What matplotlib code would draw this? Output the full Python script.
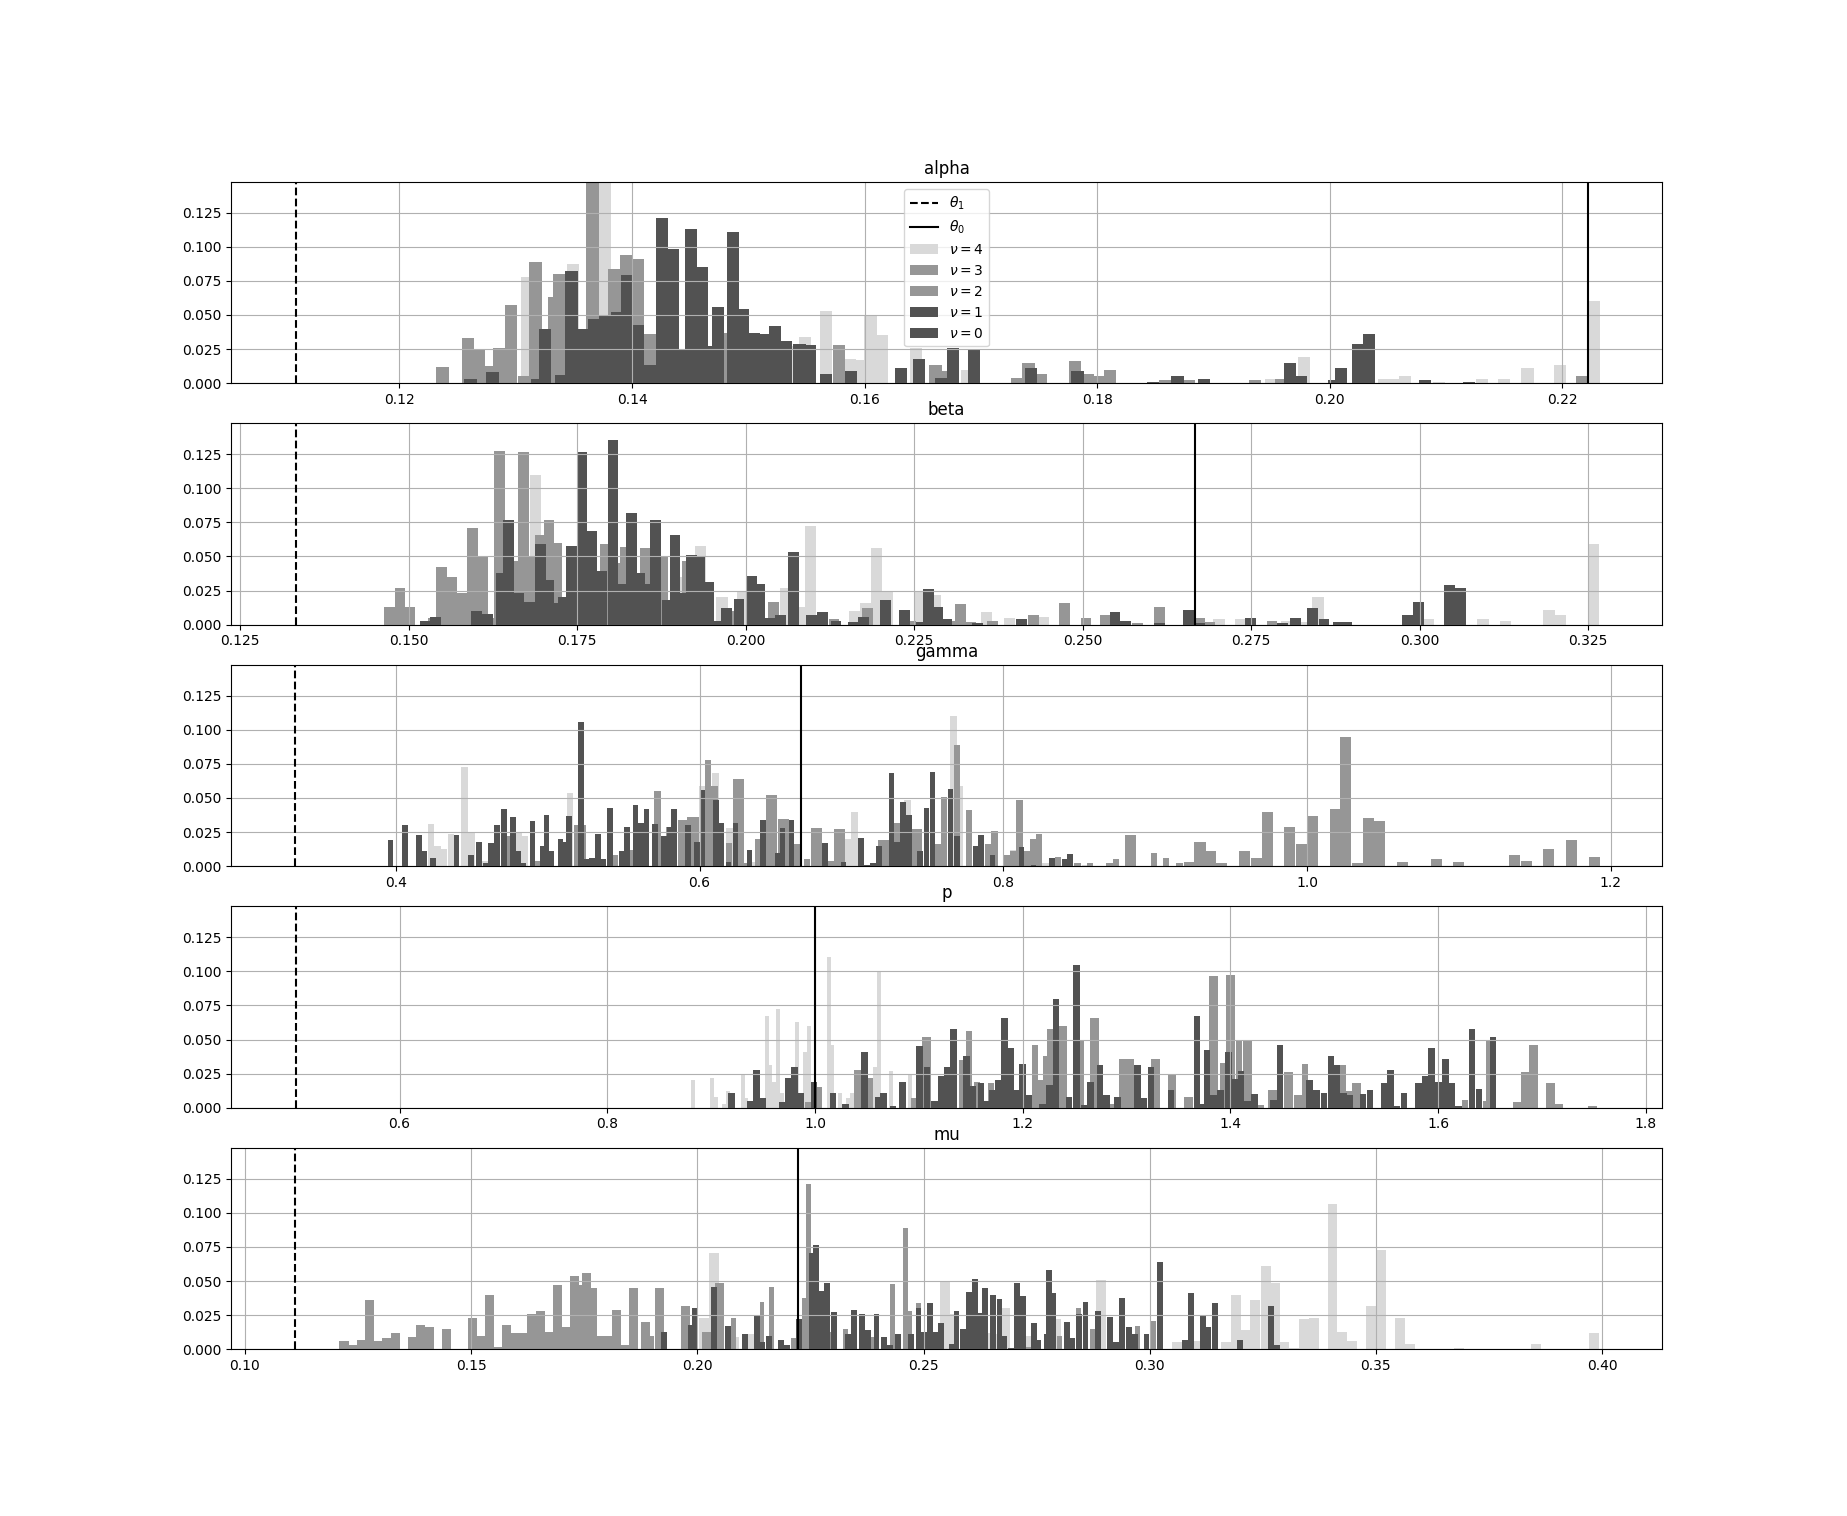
"""
Posterior weight histograms per parameter, one panel per parameter
"""

import matplotlib
matplotlib.use("Agg")
import matplotlib.pyplot as plt

# --- data -----------------------------------------------------------------
# one histogram per tempering level nu (bin centre, weight)

params = ["alpha", "beta", "gamma", "p", "mu"]
nus = [4, 3, 2, 1, 0]
theta1 = [0.1111, 0.1333, 0.3333, 0.5, 0.1111]
theta0 = [0.2222, 0.2667, 0.6667, 1.0, 0.2222]

# alpha
alpha_x4 = [0.1310, 0.1349, 0.1377, 0.1540, 0.1549, 0.1567, 0.1587, 0.1596, 0.1605, 0.1615, 0.1644, 0.1688,
            0.1950, 0.1978, 0.2047, 0.2055, 0.2065, 0.2094, 0.2131, 0.2150, 0.2170, 0.2198, 0.2227]
alpha_h4 = [0.0775, 0.087, 0.150, 0.027, 0.034, 0.053, 0.018, 0.017, 0.050, 0.035, 0.026, 0.010,
            0.003, 0.019, 0.003, 0.003, 0.005, 0.001, 0.003, 0.003, 0.011, 0.013, 0.060]
alpha_x3 = [0.1237, 0.1259, 0.1268, 0.1276, 0.1286, 0.1296, 0.1307, 0.1317, 0.1333, 0.1337]
alpha_h3 = [0.012, 0.033, 0.024, 0.0127, 0.026, 0.057, 0.005, 0.089, 0.063, 0.080]
alpha_x2 = [0.1366, 0.1385, 0.1395, 0.1405, 0.1415, 0.1481, 0.1578, 0.1661, 0.1669, 0.1731, 0.1741, 0.1752,
            0.1781, 0.1792, 0.1801, 0.1811, 0.1858, 0.1879, 0.1936, 0.1958, 0.2217]
alpha_h2 = [0.150, 0.084, 0.094, 0.091, 0.036, 0.037, 0.028, 0.013, 0.009, 0.004, 0.015, 0.007,
            0.016, 0.007, 0.005, 0.010, 0.002, 0.002, 0.002, 0.003, 0.005]
alpha_x1 = [0.1261, 0.1280, 0.1318, 0.1325, 0.1339, 0.1348, 0.1358, 0.1367, 0.1377, 0.1387, 0.1396, 0.1405,
            0.1415, 0.1426, 0.1435, 0.1443]
alpha_h1 = [0.003, 0.0083, 0.003, 0.040, 0.006, 0.082, 0.040, 0.047, 0.049, 0.052, 0.079, 0.043,
            0.013, 0.121, 0.098, 0.025]
alpha_x0 = [0.1451, 0.1460, 0.1467, 0.1474, 0.1487, 0.1495, 0.1499, 0.1505, 0.1514, 0.1523, 0.1532, 0.1544,
            0.1553, 0.1567, 0.1588, 0.1631, 0.1647, 0.1666, 0.1676, 0.1694, 0.1743, 0.1783, 0.1848, 0.1869,
            0.1892, 0.1966, 0.1975, 0.2004, 0.2010, 0.2024, 0.2034, 0.2082, 0.2120]
alpha_h0 = [0.113, 0.085, 0.027, 0.056, 0.111, 0.054, 0.018, 0.037, 0.036, 0.042, 0.031, 0.029,
            0.028, 0.007, 0.009, 0.011, 0.018, 0.004, 0.026, 0.025, 0.011, 0.009, 0.001, 0.005,
            0.003, 0.015, 0.005, 0.002, 0.011, 0.029, 0.036, 0.002, 0.001]

# beta
beta_x4 = [0.1688, 0.1904, 0.1933, 0.1965, 0.1995, 0.2060, 0.2082, 0.2096, 0.2161, 0.2178, 0.2194, 0.2210,
           0.2259, 0.2281, 0.2357, 0.2391, 0.2441, 0.2702, 0.2734, 0.2802, 0.2830, 0.2849, 0.3013, 0.3094,
           0.3127, 0.3192, 0.3208, 0.3258]
beta_h4 = [0.110, 0.035, 0.058, 0.0205, 0.025, 0.027, 0.013, 0.072, 0.010, 0.016, 0.056, 0.025,
           0.024, 0.022, 0.0096, 0.005, 0.006, 0.0044, 0.004, 0.003, 0.002, 0.0205, 0.0044, 0.0044,
           0.003, 0.011, 0.0074, 0.0595]
beta_x3 = [0.1471, 0.1487, 0.1501, 0.1537, 0.1549, 0.1564, 0.1580, 0.1595, 0.1610, 0.1627, 0.1635]
beta_h3 = [0.0127, 0.027, 0.0127, 0.005, 0.042, 0.035, 0.0235, 0.071, 0.050, 0.005, 0.127]
beta_x2 = [0.1660, 0.1670, 0.1679, 0.1696, 0.1708, 0.1720, 0.1783, 0.1791, 0.1815, 0.1822, 0.1851, 0.1877,
           0.1913, 0.1979, 0.2041, 0.2131, 0.2181, 0.2245, 0.2309, 0.2319, 0.2333, 0.2366, 0.2427, 0.2473,
           0.2505, 0.2534, 0.2581, 0.2614, 0.2673, 0.2689, 0.2781]
beta_h2 = [0.047, 0.1265, 0.050, 0.066, 0.077, 0.060, 0.033, 0.0595, 0.045, 0.057, 0.056, 0.050,
           0.047, 0.010, 0.017, 0.0044, 0.0125, 0.003, 0.003, 0.0155, 0.002, 0.003, 0.0074, 0.016,
           0.005, 0.0074, 0.001, 0.013, 0.005, 0.002, 0.003]
beta_x1 = [0.1524, 0.1540, 0.1601, 0.1617, 0.1637, 0.1648, 0.1663, 0.1679, 0.1695, 0.1707, 0.1718, 0.1730,
           0.1742, 0.1757, 0.1772, 0.1786]
beta_h1 = [0.003, 0.006, 0.010, 0.008, 0.038, 0.0765, 0.0235, 0.017, 0.0595, 0.033, 0.016, 0.0205,
           0.058, 0.1265, 0.069, 0.039]
beta_x0 = [0.1803, 0.1818, 0.1831, 0.1843, 0.1854, 0.1866, 0.1883, 0.1895, 0.1909, 0.1920, 0.1932, 0.1945,
           0.1958, 0.1971, 0.1990, 0.2008, 0.2021, 0.2036, 0.2051, 0.2071, 0.2097, 0.2114, 0.2134, 0.2160,
           0.2175, 0.2207, 0.2235, 0.2261, 0.2271, 0.2285, 0.2298, 0.2344, 0.2409, 0.2548, 0.2563, 0.2614,
           0.2657, 0.2673, 0.2749, 0.2797, 0.2816, 0.2841, 0.2858, 0.2879, 0.2892, 0.2982, 0.2998, 0.3044,
           0.3060]
beta_h0 = [0.1355, 0.030, 0.082, 0.038, 0.030, 0.0765, 0.018, 0.066, 0.0235, 0.051, 0.050, 0.031,
           0.003, 0.0125, 0.019, 0.036, 0.030, 0.005, 0.0074, 0.053, 0.0074, 0.0096, 0.003, 0.002,
           0.006, 0.018, 0.011, 0.002, 0.026, 0.013, 0.004, 0.001, 0.0044, 0.0096, 0.003, 0.001,
           0.011, 0.001, 0.005, 0.001, 0.005, 0.0125, 0.0044, 0.002, 0.002, 0.0074, 0.017, 0.029,
           0.027]

# gamma
gamma_x4 = [0.4232, 0.4275, 0.4318, 0.4364, 0.4451, 0.4497, 0.4586, 0.4810, 0.4845, 0.5147, 0.5282, 0.6019,
            0.6105, 0.6197, 0.6359, 0.6980, 0.7020, 0.7368, 0.7673, 0.7716, 0.8065, 0.8278, 0.8542]
gamma_h4 = [0.031, 0.0147, 0.0128, 0.0236, 0.073, 0.0246, 0.004, 0.0246, 0.022, 0.054, 0.003, 0.059,
            0.068, 0.028, 0.003, 0.020, 0.040, 0.0486, 0.1098, 0.059, 0.012, 0.002, 0.001]
gamma_x3 = [0.4745, 0.4937, 0.5015, 0.5441, 0.5549, 0.5722, 0.5798, 0.6054, 0.6097, 0.6192, 0.6302, 0.6386,
            0.6642, 0.6707, 0.6864, 0.7301, 0.7571, 0.7609, 0.7695, 0.7773, 0.7900, 0.7943, 0.8022, 0.8065,
            0.8108, 0.8159, 0.8197, 0.8234, 0.8361, 0.8490, 0.8571, 0.8698, 0.8741, 0.8992, 0.9073, 0.9162]
gamma_h3 = [0.022, 0.004, 0.011, 0.008, 0.012, 0.055, 0.0287, 0.078, 0.059, 0.017, 0.002, 0.020,
            0.016, 0.005, 0.004, 0.0317, 0.016, 0.051, 0.089, 0.041, 0.016, 0.026, 0.008, 0.011,
            0.0486, 0.011, 0.020, 0.0236, 0.0066, 0.002, 0.002, 0.002, 0.005, 0.0096, 0.006, 0.002]
gamma_x2 = [0.5212, 0.5892, 0.5957, 0.6256, 0.6475, 0.6551, 0.6769, 0.6923, 0.7215, 0.7428, 0.8840, 0.9224,
            0.9296, 0.9361, 0.9436, 0.9590, 0.9666, 0.9741, 0.9887, 0.9962, 1.0037, 1.0186, 1.0256, 1.0331,
            1.0404, 1.0479, 1.0628, 1.0851, 1.0997, 1.1369, 1.1444, 1.1590, 1.1743, 1.1892]
gamma_h2 = [0.030, 0.034, 0.036, 0.064, 0.052, 0.0346, 0.028, 0.0273, 0.019, 0.027, 0.023, 0.003,
            0.0177, 0.011, 0.0022, 0.011, 0.006, 0.040, 0.029, 0.016, 0.037, 0.042, 0.095, 0.002,
            0.035, 0.033, 0.003, 0.005, 0.003, 0.008, 0.0037, 0.0125, 0.019, 0.0066]
gamma_x1 = [0.3965, 0.4059, 0.4151, 0.4184, 0.4243, 0.4399, 0.4494, 0.4548, 0.4591, 0.4626, 0.4664, 0.4710,
            0.4772, 0.4807, 0.4837, 0.4899, 0.4966, 0.4991, 0.5023, 0.5085, 0.5112, 0.5139, 0.5220, 0.5258,
            0.5293, 0.5331, 0.5363, 0.5409, 0.5487, 0.5520, 0.5579, 0.5614, 0.5649, 0.5706, 0.5765]
gamma_h1 = [0.019, 0.030, 0.023, 0.0115, 0.006, 0.023, 0.008, 0.0177, 0.002, 0.017, 0.030, 0.042,
            0.036, 0.011, 0.002, 0.033, 0.015, 0.0376, 0.011, 0.020, 0.018, 0.037, 0.1054, 0.005,
            0.006, 0.0236, 0.005, 0.0427, 0.011, 0.0287, 0.045, 0.0317, 0.042, 0.031, 0.022]
gamma_x0 = [0.5803, 0.5833, 0.5924, 0.5984, 0.6019, 0.6108, 0.6140, 0.6189, 0.6237, 0.6329, 0.6418, 0.6513,
            0.6545, 0.6605, 0.6826, 0.6947, 0.7063, 0.7104, 0.7142, 0.7182, 0.7263, 0.7301, 0.7339, 0.7377,
            0.7452, 0.7493, 0.7534, 0.7652, 0.7696, 0.7816, 0.7852, 0.7930, 0.8121, 0.8199, 0.8321, 0.8402,
            0.8439]
gamma_h0 = [0.029, 0.042, 0.030, 0.0177, 0.056, 0.0486, 0.0317, 0.003, 0.0317, 0.0118, 0.034, 0.010,
            0.028, 0.034, 0.017, 0.003, 0.0206, 0.001, 0.002, 0.0147, 0.068, 0.0177, 0.047, 0.0376,
            0.011, 0.0427, 0.069, 0.0567, 0.022, 0.0147, 0.023, 0.008, 0.014, 0.001, 0.006, 0.005,
            0.009]

# p
p_x4 = [0.8829, 0.9008, 0.9046, 0.9126, 0.9165, 0.9309, 0.9338, 0.9536, 0.9568, 0.9606, 0.9645, 0.9683,
        0.9830, 0.9907, 0.9946, 1.0134, 1.0166, 1.0240, 1.0317, 1.0355, 1.0576, 1.0614, 1.0730, 1.0912]
p_h4 = [0.020, 0.022, 0.008, 0.003, 0.0125, 0.024, 0.007, 0.067, 0.031, 0.019, 0.072, 0.011,
        0.0626, 0.0405, 0.060, 0.1105, 0.046, 0.011, 0.007, 0.011, 0.030, 0.0995, 0.027, 0.025]
p_x3 = [0.9933, 1.0042, 1.0528, 1.0954, 1.1414, 1.1482, 1.1562, 1.1696, 1.2118, 1.2173, 1.2227, 1.2266,
        1.2563, 1.2867, 1.3929, 1.4083, 1.4292, 1.4718, 1.5083, 1.5147, 1.6260, 1.6458, 1.6487]
p_h3 = [0.004, 0.0155, 0.022, 0.0074, 0.035, 0.056, 0.019, 0.018, 0.046, 0.020, 0.0376, 0.058,
        0.049, 0.003, 0.033, 0.0486, 0.002, 0.032, 0.031, 0.012, 0.006, 0.005, 0.050]
p_x2 = [1.0416, 1.1075, 1.2384, 1.2691, 1.2970, 1.3030, 1.3283, 1.3439, 1.3596, 1.3837, 1.4000, 1.4163,
        1.4404, 1.4558, 1.4651, 1.5218, 1.6760, 1.6840, 1.6920, 1.7083, 1.7163, 1.7490]
p_h2 = [0.028, 0.0516, 0.060, 0.0656, 0.036, 0.036, 0.036, 0.025, 0.008, 0.0965, 0.0973, 0.0486,
        0.013, 0.0265, 0.0096, 0.018, 0.0044, 0.0265, 0.046, 0.018, 0.003, 0.0015]
p_x1 = [0.9194, 0.9376, 0.9434, 0.9494, 0.9686, 0.9744, 0.9805, 0.9866, 0.9990, 1.0173, 1.0291, 1.0480,
        1.0614, 1.0662, 1.0752, 1.0845, 1.1008, 1.1078, 1.1152, 1.1216, 1.1277, 1.1334, 1.1459, 1.1520,
        1.1600, 1.1651, 1.1706, 1.1766, 1.1824, 1.1885, 1.1942, 1.1997]
p_h1 = [0.011, 0.005, 0.028, 0.0074, 0.004, 0.022, 0.0295, 0.011, 0.019, 0.011, 0.003, 0.041,
        0.008, 0.011, 0.001, 0.019, 0.045, 0.030, 0.005, 0.0236, 0.030, 0.0575, 0.038, 0.016,
        0.018, 0.005, 0.013, 0.020, 0.0656, 0.0435, 0.013, 0.032]
p_x0 = [1.2058, 1.2192, 1.2256, 1.2320, 1.2448, 1.2518, 1.2598, 1.2653, 1.2746, 1.2806, 1.2915, 1.3104,
        1.3168, 1.3235, 1.3430, 1.3680, 1.3728, 1.3776, 1.3837, 1.3904, 1.3981, 1.4045, 1.4103, 1.4163,
        1.4231, 1.4413, 1.4478, 1.4760, 1.4827, 1.4901, 1.4968, 1.5026, 1.5087, 1.5151, 1.5279, 1.5346,
        1.5484, 1.5545, 1.5606, 1.5673, 1.5811, 1.5878, 1.5939, 1.6003, 1.6070, 1.6135, 1.6199, 1.6327,
        1.6394, 1.6529]
p_h0 = [0.0096, 0.003, 0.017, 0.080, 0.008, 0.1046, 0.002, 0.019, 0.031, 0.0096, 0.008, 0.031,
        0.0074, 0.030, 0.013, 0.067, 0.003, 0.042, 0.0096, 0.013, 0.041, 0.021, 0.027, 0.005,
        0.010, 0.006, 0.046, 0.020, 0.013, 0.011, 0.0376, 0.031, 0.011, 0.0096, 0.010, 0.013,
        0.018, 0.028, 0.001, 0.011, 0.018, 0.0236, 0.0435, 0.019, 0.036, 0.018, 0.001, 0.0575,
        0.014, 0.0516]

# mu
mu_x4 = [0.2015, 0.2036, 0.2081, 0.2117, 0.2548, 0.2566, 0.2643, 0.2663, 0.2681, 0.2728, 0.2793, 0.2892,
         0.3061, 0.3105, 0.3169, 0.3191, 0.3212, 0.3233, 0.3256, 0.3277, 0.3297, 0.3319, 0.3341, 0.3363,
         0.3404, 0.3426, 0.3448, 0.3489, 0.3512, 0.3554, 0.3576, 0.3683, 0.3854, 0.3983]
mu_h4 = [0.0228, 0.0707, 0.009, 0.011, 0.050, 0.026, 0.012, 0.011, 0.030, 0.0096, 0.022, 0.0508,
         0.0052, 0.006, 0.0052, 0.040, 0.014, 0.0363, 0.061, 0.0486, 0.0052, 0.001, 0.022, 0.0228,
         0.1068, 0.0125, 0.006, 0.0317, 0.073, 0.0228, 0.0037, 0.0007, 0.0037, 0.0118]
mu_x3 = [0.2081, 0.2143, 0.2164, 0.2213, 0.2238, 0.2246, 0.2294, 0.2328, 0.2387, 0.2432, 0.2460, 0.2469,
         0.2489, 0.2731, 0.2800, 0.2842, 0.2873, 0.2972, 0.3008]
mu_h3 = [0.023, 0.0346, 0.0457, 0.008, 0.0376, 0.1208, 0.0125, 0.0147, 0.0088, 0.048, 0.089, 0.028,
         0.034, 0.002, 0.0096, 0.030, 0.015, 0.017, 0.0206]
mu_x2 = [0.1219, 0.1238, 0.1257, 0.1275, 0.1294, 0.1314, 0.1332, 0.1370, 0.1389, 0.1408, 0.1445, 0.1503,
         0.1522, 0.1541, 0.1559, 0.1578, 0.1597, 0.1616, 0.1634, 0.1653, 0.1672, 0.1691, 0.1709, 0.1728,
         0.1747, 0.1756, 0.1769, 0.1785, 0.1802, 0.1822, 0.1838, 0.1860, 0.1885, 0.1895, 0.1916, 0.1973,
         0.2021, 0.2050]
mu_h2 = [0.006, 0.003, 0.0066, 0.036, 0.006, 0.008, 0.0118, 0.0088, 0.0177, 0.016, 0.0147, 0.0228,
         0.0096, 0.040, 0.0015, 0.0177, 0.0118, 0.0118, 0.0258, 0.028, 0.0125, 0.047, 0.016, 0.0538,
         0.047, 0.056, 0.045, 0.0096, 0.0096, 0.0287, 0.003, 0.045, 0.020, 0.0096, 0.045, 0.0317,
         0.0125, 0.0486]
mu_x1 = [0.1927, 0.1986, 0.1995, 0.2036, 0.2068, 0.2105, 0.2132, 0.2144, 0.2159, 0.2185, 0.2199, 0.2225,
         0.2253, 0.2262, 0.2274, 0.2286, 0.2303, 0.2334, 0.2347, 0.2364, 0.2377, 0.2396, 0.2412, 0.2426,
         0.2443, 0.2473, 0.2489]
mu_h1 = [0.0125, 0.0177, 0.030, 0.0457, 0.017, 0.011, 0.0243, 0.005, 0.0096, 0.0066, 0.003, 0.022,
         0.0707, 0.0766, 0.0427, 0.0486, 0.0273, 0.011, 0.0287, 0.0258, 0.014, 0.0258, 0.0088, 0.003,
         0.011, 0.011, 0.030]
mu_x0 = [0.2502, 0.2514, 0.2527, 0.2539, 0.2563, 0.2573, 0.2587, 0.2600, 0.2613, 0.2627, 0.2636, 0.2653,
         0.2668, 0.2679, 0.2693, 0.2707, 0.2720, 0.2744, 0.2753, 0.2772, 0.2778, 0.2786, 0.2817, 0.2828,
         0.2844, 0.2858, 0.2885, 0.2912, 0.2926, 0.2939, 0.2955, 0.2967, 0.2993, 0.3023, 0.3078, 0.3091,
         0.3118, 0.3130, 0.3145, 0.3200, 0.3269, 0.3282]
mu_h0 = [0.0125, 0.034, 0.0125, 0.019, 0.0037, 0.028, 0.0147, 0.042, 0.0516, 0.0265, 0.045, 0.040,
         0.0368, 0.0096, 0.001, 0.0486, 0.039, 0.019, 0.0066, 0.011, 0.058, 0.041, 0.020, 0.008,
         0.0258, 0.0346, 0.028, 0.0236, 0.0052, 0.0376, 0.016, 0.011, 0.011, 0.064, 0.0066, 0.041,
         0.0243, 0.016, 0.034, 0.0066, 0.0317, 0.003]

# --- style ----------------------------------------------------------------

COLORS = ["#d9d9d9", "#969696", "#969696", "#525252", "#525252"]  # nu = 4..0

# bin width of each histogram (nu = 4..0), per panel
BIN_WIDTHS = {
    "alpha": [0.00105, 0.00105, 0.00105, 0.00105, 0.00105],
    "beta": [0.0017, 0.0016, 0.0016, 0.0016, 0.0016],
    "gamma": [0.0043, 0.0043, 0.0074, 0.0037, 0.0037],
    "p": [0.0039, 0.0058, 0.0085, 0.0064, 0.0064],
    "mu": [0.0022, 0.0011, 0.0020, 0.0013, 0.0013],
}

XLIMS = {
    "alpha": (0.1055, 0.2286),
    "beta": (0.1236, 0.336),
    "gamma": (0.2913, 1.234),
    "p": (0.4375, 1.816),
    "mu": (0.0969, 0.4133),
}
YMAX = 0.1475


def get_series(name):
    """Devuelve las listas (x, h) de cada nivel nu para un parametro"""
    g = globals()
    return [(g[f"{name}_x{nu}"], g[f"{name}_h{nu}"]) for nu in nus]


def plot_panel(ax, name, t1, t0, show_legend=False):
    """Dibuja los histogramas de un parametro"""
    ax.axvline(t1, color="k", linestyle="--", label=r"$\theta_1$")
    ax.axvline(t0, color="k", linestyle="-", label=r"$\theta_0$")

    widths = BIN_WIDTHS[name]
    for i, (x, h) in enumerate(get_series(name)):
        ax.bar(x, h, width=widths[i], color=COLORS[i], linewidth=0,
               label=r"$\nu = %d$" % nus[i])

    ax.set_xlim(*XLIMS[name])
    ax.set_ylim(0, YMAX)
    ax.grid(True)
    ax.set_title(name)
    if show_legend:
        ax.legend(loc="upper center")


def main():
    fig, axes = plt.subplots(5, 1, figsize=(18.47, 15.16), dpi=100)
    for k, name in enumerate(params):
        plot_panel(axes[k], name, theta1[k], theta0[k], show_legend=(k == 0))
    fig.savefig("out.png", dpi=100)


if __name__ == "__main__":
    main()
